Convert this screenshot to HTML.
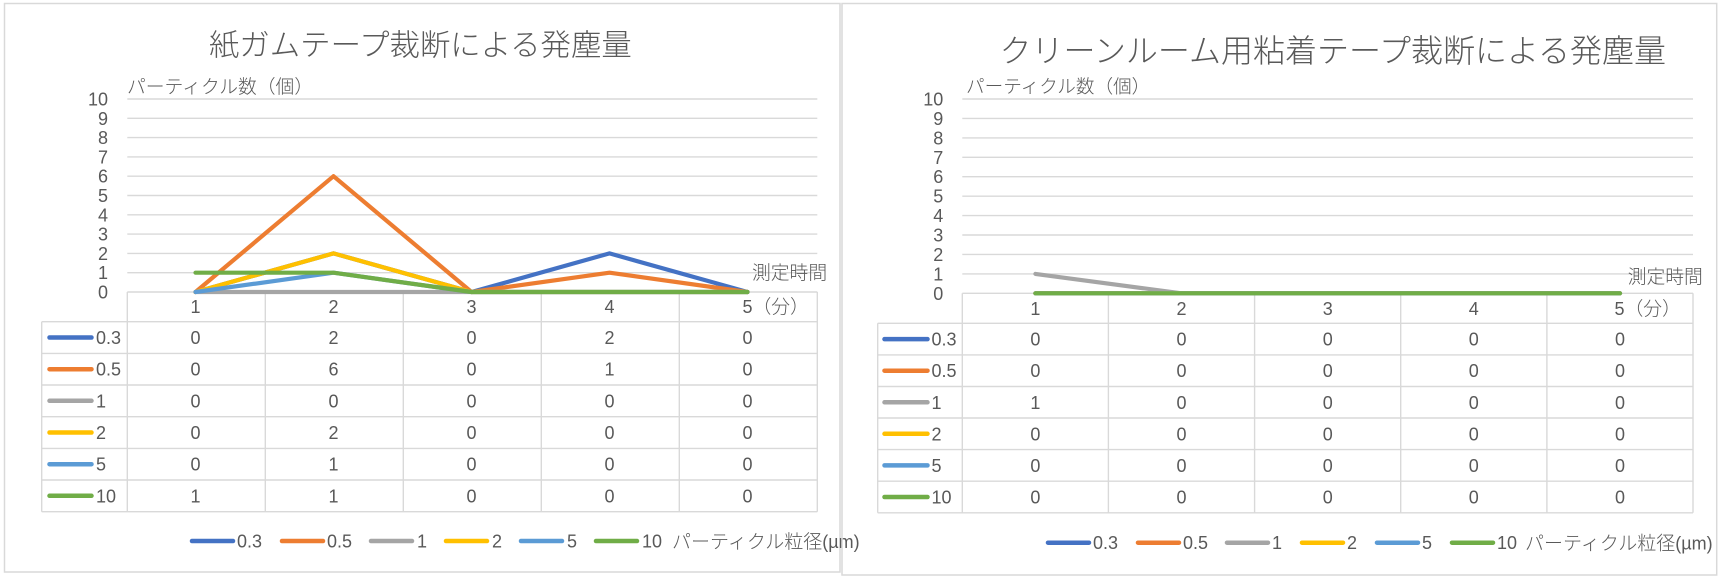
<!DOCTYPE html>
<html><head><meta charset="utf-8"><style>
html,body{margin:0;padding:0;background:#fff;}
svg{display:block;}
text{font-family:"Liberation Sans","Noto Sans CJK JP Light","Noto Sans CJK JP",sans-serif;fill:#595959;font-weight:300;}
.j{font-family:"Liberation Sans","Noto Sans CJK JP Light","Noto Sans CJK JP",sans-serif;}
.g{stroke:#D9D9D9;stroke-width:1.4;fill:none;}
.s{fill:none;stroke-width:4.2;stroke-linecap:round;stroke-linejoin:round;}
.k{stroke-width:4.5;stroke-linecap:round;}
</style></head><body>
<svg width="1723" height="580" viewBox="0 0 1723 580" xmlns="http://www.w3.org/2000/svg">
<rect x="0" y="0" width="1723" height="580" fill="#fff"/>

<!-- ================= LEFT CHART ================= -->
<rect x="4.5" y="3.5" width="835.5" height="568.5" fill="#fff" stroke="#D9D9D9" stroke-width="1.5"/>
<text x="209" y="55.5" font-size="30.4" class="j">紙ガムテープ裁断による発塵量</text>
<text x="127" y="93" font-size="18.8">パーティクル数（個）</text>

<g class="g">
<line x1="127.3" y1="99" x2="817.3" y2="99"/>
<line x1="127.3" y1="118.3" x2="817.3" y2="118.3"/>
<line x1="127.3" y1="137.6" x2="817.3" y2="137.6"/>
<line x1="127.3" y1="156.9" x2="817.3" y2="156.9"/>
<line x1="127.3" y1="176.2" x2="817.3" y2="176.2"/>
<line x1="127.3" y1="195.5" x2="817.3" y2="195.5"/>
<line x1="127.3" y1="214.8" x2="817.3" y2="214.8"/>
<line x1="127.3" y1="234.1" x2="817.3" y2="234.1"/>
<line x1="127.3" y1="253.4" x2="817.3" y2="253.4"/>
<line x1="127.3" y1="272.7" x2="817.3" y2="272.7"/>
<line x1="127.3" y1="292" x2="817.3" y2="292"/>
<line x1="41.7" y1="321.7" x2="817.3" y2="321.7"/>
<line x1="41.7" y1="353.4" x2="817.3" y2="353.4"/>
<line x1="41.7" y1="385" x2="817.3" y2="385"/>
<line x1="41.7" y1="416.7" x2="817.3" y2="416.7"/>
<line x1="41.7" y1="448.4" x2="817.3" y2="448.4"/>
<line x1="41.7" y1="480" x2="817.3" y2="480"/>
<line x1="41.7" y1="511.7" x2="817.3" y2="511.7"/>
<line x1="41.7" y1="321.7" x2="41.7" y2="511.7"/>
<line x1="127.3" y1="292" x2="127.3" y2="511.7"/>
<line x1="265.3" y1="292" x2="265.3" y2="511.7"/>
<line x1="403.3" y1="292" x2="403.3" y2="511.7"/>
<line x1="541.3" y1="292" x2="541.3" y2="511.7"/>
<line x1="679.3" y1="292" x2="679.3" y2="511.7"/>
<line x1="817.3" y1="292" x2="817.3" y2="511.7"/>
</g>

<g font-size="18" text-anchor="end">
<text x="108" y="105.5">10</text>
<text x="108" y="124.8">9</text>
<text x="108" y="144.1">8</text>
<text x="108" y="163.4">7</text>
<text x="108" y="182.7">6</text>
<text x="108" y="202">5</text>
<text x="108" y="221.3">4</text>
<text x="108" y="240.6">3</text>
<text x="108" y="259.9">2</text>
<text x="108" y="279.2">1</text>
<text x="108" y="298.5">0</text>
</g>

<polyline class="s" stroke="#4472C4" points="195.5,292 333.5,253.4 471.5,292 609.5,253.4 747.5,292"/>
<polyline class="s" stroke="#ED7D31" points="195.5,292 333.5,176.2 471.5,292 609.5,272.7 747.5,292"/>
<polyline class="s" stroke="#A5A5A5" points="195.5,292 333.5,292 471.5,292 609.5,292 747.5,292"/>
<polyline class="s" stroke="#FFC000" points="195.5,292 333.5,253.4 471.5,292 609.5,292 747.5,292"/>
<polyline class="s" stroke="#5B9BD5" points="195.5,292 333.5,272.7 471.5,292 609.5,292 747.5,292"/>
<polyline class="s" stroke="#70AD47" points="195.5,272.7 333.5,272.7 471.5,292 609.5,292 747.5,292"/>

<text x="752" y="279" font-size="18.8">測定時間</text>

<g font-size="18" text-anchor="middle">
<text x="195.5" y="313.2">1</text>
<text x="333.5" y="313.2">2</text>
<text x="471.5" y="313.2">3</text>
<text x="609.5" y="313.2">4</text>
</g>
<text x="742.5" y="313.2" font-size="18">5<tspan font-size="18.8">（分）</tspan></text>

<g class="k">
<line x1="49.5" y1="337.5" x2="91.5" y2="337.5" stroke="#4472C4"/>
<line x1="49.5" y1="369.2" x2="91.5" y2="369.2" stroke="#ED7D31"/>
<line x1="49.5" y1="400.8" x2="91.5" y2="400.8" stroke="#A5A5A5"/>
<line x1="49.5" y1="432.5" x2="91.5" y2="432.5" stroke="#FFC000"/>
<line x1="49.5" y1="464.2" x2="91.5" y2="464.2" stroke="#5B9BD5"/>
<line x1="49.5" y1="495.8" x2="91.5" y2="495.8" stroke="#70AD47"/>
</g>
<g font-size="18">
<text x="96" y="344">0.3</text>
<text x="96" y="375.7">0.5</text>
<text x="96" y="407.3">1</text>
<text x="96" y="439">2</text>
<text x="96" y="470.7">5</text>
<text x="96" y="502.3">10</text>
</g>
<g font-size="18" text-anchor="middle">
<text x="195.5" y="344">0</text><text x="333.5" y="344">2</text><text x="471.5" y="344">0</text><text x="609.5" y="344">2</text><text x="747.5" y="344">0</text>
<text x="195.5" y="375.7">0</text><text x="333.5" y="375.7">6</text><text x="471.5" y="375.7">0</text><text x="609.5" y="375.7">1</text><text x="747.5" y="375.7">0</text>
<text x="195.5" y="407.3">0</text><text x="333.5" y="407.3">0</text><text x="471.5" y="407.3">0</text><text x="609.5" y="407.3">0</text><text x="747.5" y="407.3">0</text>
<text x="195.5" y="439">0</text><text x="333.5" y="439">2</text><text x="471.5" y="439">0</text><text x="609.5" y="439">0</text><text x="747.5" y="439">0</text>
<text x="195.5" y="470.7">0</text><text x="333.5" y="470.7">1</text><text x="471.5" y="470.7">0</text><text x="609.5" y="470.7">0</text><text x="747.5" y="470.7">0</text>
<text x="195.5" y="502.3">1</text><text x="333.5" y="502.3">1</text><text x="471.5" y="502.3">0</text><text x="609.5" y="502.3">0</text><text x="747.5" y="502.3">0</text>
</g>

<g class="k">
<line x1="192" y1="541" x2="233" y2="541" stroke="#4472C4"/>
<line x1="282" y1="541" x2="323" y2="541" stroke="#ED7D31"/>
<line x1="371" y1="541" x2="412" y2="541" stroke="#A5A5A5"/>
<line x1="446" y1="541" x2="487" y2="541" stroke="#FFC000"/>
<line x1="521" y1="541" x2="562" y2="541" stroke="#5B9BD5"/>
<line x1="596" y1="541" x2="637" y2="541" stroke="#70AD47"/>
</g>
<g font-size="18">
<text x="237" y="547.5">0.3</text>
<text x="327" y="547.5">0.5</text>
<text x="417" y="547.5">1</text>
<text x="492" y="547.5">2</text>
<text x="567" y="547.5">5</text>
<text x="642" y="547.5">10</text>
</g>
<text x="672" y="548" font-size="19">パーティクル粒径<tspan font-size="18">(µm)</tspan></text>

<!-- ================= RIGHT CHART ================= -->
<rect x="842" y="3.5" width="874.7" height="571.5" fill="none" stroke="#D9D9D9" stroke-width="1.5"/>
<text x="999.5" y="62" font-size="32" class="j">クリーンルーム用粘着テープ裁断による発塵量</text>
<text x="966" y="93" font-size="18.6">パーティクル数（個）</text>

<g class="g">
<line x1="962.3" y1="99" x2="1693" y2="99"/>
<line x1="962.3" y1="118.4" x2="1693" y2="118.4"/>
<line x1="962.3" y1="137.9" x2="1693" y2="137.9"/>
<line x1="962.3" y1="157.3" x2="1693" y2="157.3"/>
<line x1="962.3" y1="176.7" x2="1693" y2="176.7"/>
<line x1="962.3" y1="196.2" x2="1693" y2="196.2"/>
<line x1="962.3" y1="215.6" x2="1693" y2="215.6"/>
<line x1="962.3" y1="235" x2="1693" y2="235"/>
<line x1="962.3" y1="254.4" x2="1693" y2="254.4"/>
<line x1="962.3" y1="273.9" x2="1693" y2="273.9"/>
<line x1="962.3" y1="293.3" x2="1693" y2="293.3"/>
<line x1="877.7" y1="323.3" x2="1693" y2="323.3"/>
<line x1="877.7" y1="354.9" x2="1693" y2="354.9"/>
<line x1="877.7" y1="386.5" x2="1693" y2="386.5"/>
<line x1="877.7" y1="418" x2="1693" y2="418"/>
<line x1="877.7" y1="449.6" x2="1693" y2="449.6"/>
<line x1="877.7" y1="481.2" x2="1693" y2="481.2"/>
<line x1="877.7" y1="512.8" x2="1693" y2="512.8"/>
<line x1="877.7" y1="323.3" x2="877.7" y2="512.8"/>
<line x1="962.3" y1="293.3" x2="962.3" y2="512.8"/>
<line x1="1108.4" y1="293.3" x2="1108.4" y2="512.8"/>
<line x1="1254.6" y1="293.3" x2="1254.6" y2="512.8"/>
<line x1="1400.7" y1="293.3" x2="1400.7" y2="512.8"/>
<line x1="1546.9" y1="293.3" x2="1546.9" y2="512.8"/>
<line x1="1693" y1="293.3" x2="1693" y2="512.8"/>
</g>

<g font-size="18" text-anchor="end">
<text x="943.3" y="105.5">10</text>
<text x="943.3" y="124.9">9</text>
<text x="943.3" y="144.4">8</text>
<text x="943.3" y="163.8">7</text>
<text x="943.3" y="183.2">6</text>
<text x="943.3" y="202.7">5</text>
<text x="943.3" y="222.1">4</text>
<text x="943.3" y="241.5">3</text>
<text x="943.3" y="260.9">2</text>
<text x="943.3" y="280.4">1</text>
<text x="943.3" y="299.8">0</text>
</g>

<polyline class="s" stroke="#4472C4" points="1035.4,293.3 1181.5,293.3 1327.7,293.3 1473.8,293.3 1620,293.3"/>
<polyline class="s" stroke="#ED7D31" points="1035.4,293.3 1181.5,293.3 1327.7,293.3 1473.8,293.3 1620,293.3"/>
<polyline class="s" stroke="#A5A5A5" points="1035.4,273.9 1181.5,293.3 1327.7,293.3 1473.8,293.3 1620,293.3"/>
<polyline class="s" stroke="#FFC000" points="1035.4,293.3 1181.5,293.3 1327.7,293.3 1473.8,293.3 1620,293.3"/>
<polyline class="s" stroke="#5B9BD5" points="1035.4,293.3 1181.5,293.3 1327.7,293.3 1473.8,293.3 1620,293.3"/>
<polyline class="s" stroke="#70AD47" points="1035.4,293.3 1181.5,293.3 1327.7,293.3 1473.8,293.3 1620,293.3"/>

<text x="1627.7" y="283" font-size="18.8">測定時間</text>

<g font-size="18" text-anchor="middle">
<text x="1035.4" y="314.8">1</text>
<text x="1181.5" y="314.8">2</text>
<text x="1327.7" y="314.8">3</text>
<text x="1473.8" y="314.8">4</text>
</g>
<text x="1614.5" y="314.8" font-size="18">5<tspan font-size="18.8">（分）</tspan></text>

<g class="k">
<line x1="884.5" y1="339.1" x2="927.5" y2="339.1" stroke="#4472C4"/>
<line x1="884.5" y1="370.7" x2="927.5" y2="370.7" stroke="#ED7D31"/>
<line x1="884.5" y1="402.3" x2="927.5" y2="402.3" stroke="#A5A5A5"/>
<line x1="884.5" y1="433.8" x2="927.5" y2="433.8" stroke="#FFC000"/>
<line x1="884.5" y1="465.4" x2="927.5" y2="465.4" stroke="#5B9BD5"/>
<line x1="884.5" y1="497" x2="927.5" y2="497" stroke="#70AD47"/>
</g>
<g font-size="18">
<text x="931.5" y="345.6">0.3</text>
<text x="931.5" y="377.2">0.5</text>
<text x="931.5" y="408.8">1</text>
<text x="931.5" y="440.3">2</text>
<text x="931.5" y="471.9">5</text>
<text x="931.5" y="503.5">10</text>
</g>
<g font-size="18" text-anchor="middle">
<text x="1035.4" y="345.6">0</text><text x="1181.5" y="345.6">0</text><text x="1327.7" y="345.6">0</text><text x="1473.8" y="345.6">0</text><text x="1620" y="345.6">0</text>
<text x="1035.4" y="377.2">0</text><text x="1181.5" y="377.2">0</text><text x="1327.7" y="377.2">0</text><text x="1473.8" y="377.2">0</text><text x="1620" y="377.2">0</text>
<text x="1035.4" y="408.8">1</text><text x="1181.5" y="408.8">0</text><text x="1327.7" y="408.8">0</text><text x="1473.8" y="408.8">0</text><text x="1620" y="408.8">0</text>
<text x="1035.4" y="440.3">0</text><text x="1181.5" y="440.3">0</text><text x="1327.7" y="440.3">0</text><text x="1473.8" y="440.3">0</text><text x="1620" y="440.3">0</text>
<text x="1035.4" y="471.9">0</text><text x="1181.5" y="471.9">0</text><text x="1327.7" y="471.9">0</text><text x="1473.8" y="471.9">0</text><text x="1620" y="471.9">0</text>
<text x="1035.4" y="503.5">0</text><text x="1181.5" y="503.5">0</text><text x="1327.7" y="503.5">0</text><text x="1473.8" y="503.5">0</text><text x="1620" y="503.5">0</text>
</g>

<g class="k">
<line x1="1048" y1="542.7" x2="1089" y2="542.7" stroke="#4472C4"/>
<line x1="1138" y1="542.7" x2="1179" y2="542.7" stroke="#ED7D31"/>
<line x1="1227" y1="542.7" x2="1268" y2="542.7" stroke="#A5A5A5"/>
<line x1="1302" y1="542.7" x2="1343" y2="542.7" stroke="#FFC000"/>
<line x1="1377" y1="542.7" x2="1418" y2="542.7" stroke="#5B9BD5"/>
<line x1="1452" y1="542.7" x2="1493" y2="542.7" stroke="#70AD47"/>
</g>
<g font-size="18">
<text x="1093" y="549.2">0.3</text>
<text x="1183" y="549.2">0.5</text>
<text x="1272" y="549.2">1</text>
<text x="1347" y="549.2">2</text>
<text x="1422" y="549.2">5</text>
<text x="1497" y="549.2">10</text>
</g>
<text x="1525" y="549.7" font-size="19">パーティクル粒径<tspan font-size="18">(µm)</tspan></text>
</svg>
</body></html>
